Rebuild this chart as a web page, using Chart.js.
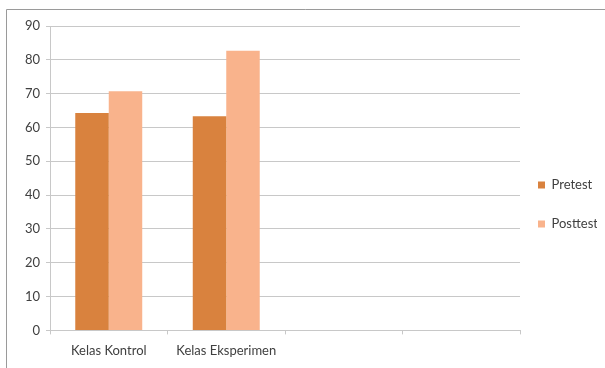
<!DOCTYPE html>
<html>
<head>
<meta charset="utf-8">
<script src="https://cdn.jsdelivr.net/npm/chart.js@4"></script>
<style>
  html, body { margin: 0; padding: 0; background: #fff; }
  #wrap { position: relative; width: 605px; height: 368px; }
</style>
</head>
<body>
<div id="wrap"><canvas id="nilaiChart" width="605" height="368"></canvas></div>
<script>
const categories = ['Kelas Kontrol', 'Kelas Eksperimen', '', ''];
const pretest = [64.3, 63.3, null, null];
const posttest = [70.7, 82.7, null, null];
const seriesNames = ['Pretest', 'Posttest'];

const textColor = '#404040';
const gridColor = '#c8c8c8';

// frame of the original picture (top and left edge only)
const framePlugin = {
    id: 'frame',
    beforeDraw(chart) {
        const ctx = chart.ctx;
        ctx.save();
        ctx.strokeStyle = '#9a9a9a';
        ctx.lineWidth = 1;
        ctx.beginPath();
        ctx.moveTo(6.5, 368);
        ctx.lineTo(6.5, 9.5);
        ctx.lineTo(605, 9.5);
        ctx.stroke();
        ctx.restore();
    }
};

// move the legend next to the plot, vertically where the original has it
const legendPlace = {
    id: 'legendPlace',
    afterLayout(chart) {
        const lg = chart.legend;
        const w = lg.right - lg.left;
        const h = lg.bottom - lg.top;
        lg.left = chart.chartArea.right - 8;
        lg.right = lg.left + w;
        lg.top = (409 - h) / 2;
        lg.bottom = lg.top + h;
    }
};

Chart.defaults.font.family = 'Lato, "Open Sans", sans-serif';
Chart.defaults.font.size = 13;
Chart.defaults.color = textColor;

new Chart(document.getElementById('nilaiChart'), {
    type: 'bar',
    data: {
        labels: categories,
        datasets: [
            {label: seriesNames[0], data: pretest, backgroundColor: '#d9823e'},
            {label: seriesNames[1], data: posttest, backgroundColor: '#f9b38c'}
        ]
    },
    options: {
        responsive: false,
        animation: false,
        layout: {padding: {left: 6, top: 26, right: 0, bottom: 0}},
        datasets: {bar: {barPercentage: 1, categoryPercentage: 0.57}},
        scales: {
            x: {
                grid: {offset: true, drawOnChartArea: false, color: gridColor, tickLength: 4},
                border: {color: gridColor},
                ticks: {padding: 9, color: textColor}
            },
            y: {
                min: 0,
                max: 90,
                ticks: {stepSize: 10, padding: 6, color: textColor},
                grid: {color: gridColor, tickLength: 4},
                border: {color: gridColor},
                afterFit(scale) { scale.width = 44; }
            }
        },
        plugins: {
            legend: {
                position: 'right',
                fullSize: false,
                maxWidth: 85,
                labels: {boxWidth: 7, boxHeight: 7, padding: 26, color: textColor, font: {size: 13}}
            },
            tooltip: {enabled: false}
        }
    },
    plugins: [framePlugin, legendPlace]
});
</script>
</body>
</html>
